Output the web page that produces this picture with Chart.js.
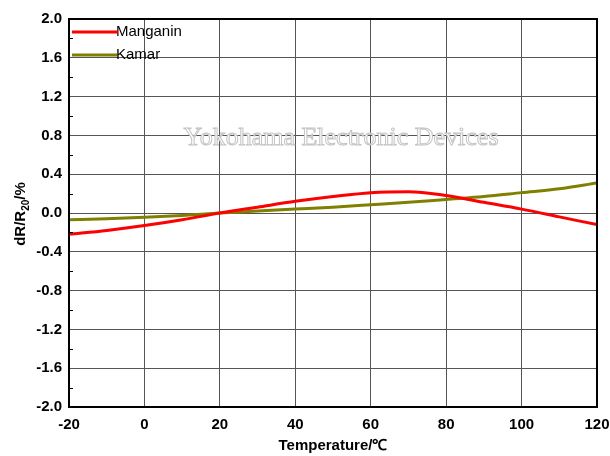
<!DOCTYPE html>
<html>
<head>
<meta charset="utf-8">
<script src="https://cdn.jsdelivr.net/npm/chart.js@4"></script>
<style>
  html, body { margin: 0; padding: 0; background: #fff; }
  #wrap { width: 610px; height: 456px; }
</style>
</head>
<body>
<div id="wrap"><canvas id="chart-temp"></canvas></div>
<script>
const temps = [-20, -10, 0, 10, 20, 30, 40, 50, 60, 70, 80, 90, 100, 110, 120];
const manganin = [-0.22, -0.18, -0.13, -0.07, 0.0, 0.06, 0.12, 0.17, 0.21, 0.22, 0.18, 0.11, 0.04, -0.04, -0.12];
const kamar = [-0.07, -0.06, -0.045, -0.025, 0.0, 0.02, 0.04, 0.06, 0.085, 0.11, 0.14, 0.17, 0.21, 0.25, 0.31];
const xTicks = [-20, 0, 20, 40, 60, 80, 100, 120];
const yTicks = [-2.0, -1.6, -1.2, -0.8, -0.4, 0.0, 0.4, 0.8, 1.2, 1.6, 2.0];

const tickFont = { family: "'Liberation Sans', Arial, sans-serif", size: 15, weight: 'bold' };

const extras = {
  id: 'extras',
  beforeDatasetsDraw(chart) {
    const ctx = chart.ctx;
    // watermark
    ctx.save();
    ctx.font = "26px 'Liberation Serif', 'DejaVu Serif', serif";
    ctx.textAlign = 'center';
    ctx.textBaseline = 'middle';
    ctx.fillStyle = '#ffffff';
    ctx.strokeStyle = '#c4c4c4';
    ctx.lineWidth = 1;
    ctx.fillText('Yokohama Electronic Devices', 341, 138);
    ctx.strokeText('Yokohama Electronic Devices', 341, 138);
    ctx.restore();
  },
  afterDraw(chart) {
    const ctx = chart.ctx;
    const a = chart.chartArea;
    const ys = chart.scales.y;
    ctx.save();
    // frame
    ctx.strokeStyle = '#000';
    ctx.lineWidth = 2;
    ctx.strokeRect(a.left, a.top, a.right - a.left, a.bottom - a.top);
    // minor ticks on y
    ctx.lineWidth = 1;
    for (let v = -1.8; v < 2.0; v += 0.4) {
      const py = Math.round(ys.getPixelForValue(v)) + 0.5;
      ctx.beginPath();
      ctx.moveTo(a.left, py);
      ctx.lineTo(a.left + 4, py);
      ctx.stroke();
    }
    // legend
    ctx.font = "15px 'Liberation Sans', Arial, sans-serif";
    ctx.textBaseline = 'middle';
    ctx.textAlign = 'left';
    chart.data.datasets.forEach((ds, i) => {
      const y = 32 + i * 23;
      ctx.strokeStyle = ds.borderColor;
      ctx.lineWidth = 3;
      ctx.beginPath();
      ctx.moveTo(72, y);
      ctx.lineTo(117, y);
      ctx.stroke();
      ctx.fillStyle = '#000';
      ctx.fillText(ds.label, 116, y);
    });
    // x title
    ctx.font = "bold 15px 'Liberation Sans', Arial, sans-serif";
    ctx.textAlign = 'center';
    ctx.fillText('Temperature/\u2103', 333, 446);
    // y title with subscript
    ctx.translate(21, 214);
    ctx.rotate(-Math.PI / 2);
    const f1 = "bold 15px 'Liberation Sans', Arial, sans-serif";
    const f2 = "bold 10px 'Liberation Sans', Arial, sans-serif";
    ctx.font = f1; const w1 = ctx.measureText('dR/R').width;
    ctx.font = f2; const w2 = ctx.measureText('20').width;
    ctx.font = f1; const w3 = ctx.measureText('/%').width;
    let x0 = -(w1 + w2 + w3) / 2;
    ctx.textAlign = 'left';
    ctx.font = f1; ctx.fillText('dR/R', x0, 0);
    ctx.font = f2; ctx.fillText('20', x0 + w1, 5);
    ctx.font = f1; ctx.fillText('/%', x0 + w1 + w2, 0);
    ctx.restore();
  }
};

new Chart(document.getElementById('chart-temp'), {
  type: 'line',
  data: {
    datasets: [
      {
        label: 'Manganin',
        data: temps.map((t, i) => ({ x: t, y: manganin[i] })),
        borderColor: '#ff0000',
        borderWidth: 3,
        pointRadius: 0,
        tension: 0.4,
        cubicInterpolationMode: 'monotone',
      },
      {
        label: 'Kamar',
        data: temps.map((t, i) => ({ x: t, y: kamar[i] })),
        borderColor: '#808000',
        borderWidth: 3,
        pointRadius: 0,
        tension: 0.4,
        cubicInterpolationMode: 'monotone',
      },
    ],
  },
  options: {
    responsive: true,
    maintainAspectRatio: false,
    animation: false,
    layout: { padding: { top: 19, right: 13, left: 0, bottom: 0 } },
    plugins: {
      legend: { display: false },
      tooltip: { enabled: false },
    },
    scales: {
      x: {
        type: 'linear',
        min: -20,
        max: 120,
        afterBuildTicks: (s) => { s.ticks = xTicks.map(v => ({ value: v })); },
        afterFit: (s) => { s.height = 49; s.paddingRight = 0; s.paddingLeft = 0; },
        grid: { color: '#555', lineWidth: 1, drawTicks: false },
        border: { display: false },
        ticks: { color: '#000', font: tickFont, padding: 9, maxRotation: 0 },
      },
      y: {
        min: -2.0,
        max: 2.0,
        afterBuildTicks: (s) => { s.ticks = yTicks.map(v => ({ value: v })); },
        afterFit: (s) => { s.width = 69; },
        grid: { color: '#555', lineWidth: 1, drawTicks: false },
        border: { display: false },
        ticks: {
          color: '#000',
          font: tickFont,
          padding: 7,
          callback: (v) => Number(v).toFixed(1),
        },
      },
    },
  },
  plugins: [extras],
});
</script>
</body>
</html>
